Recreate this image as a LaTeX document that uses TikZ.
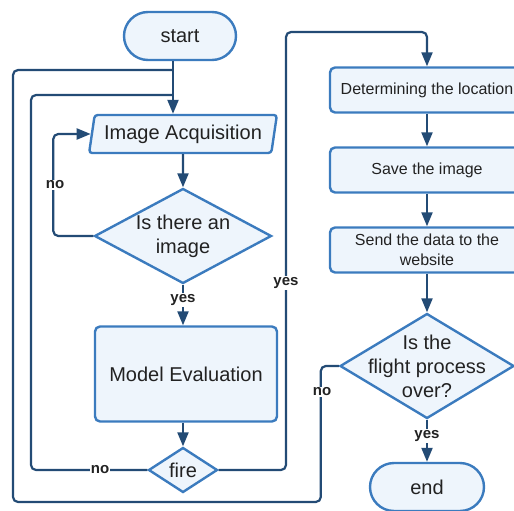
\documentclass[tikz,border=0pt]{standalone}
\usepackage{fontspec}
\setmainfont{Liberation Sans}
\usetikzlibrary{shapes.geometric,arrows.meta}
\definecolor{edge}{HTML}{3B7BBE}
\definecolor{pale}{HTML}{EEF5FC}
\definecolor{wire}{HTML}{234B75}
\definecolor{ink}{HTML}{222222}

\begin{document}
\begin{tikzpicture}[x=1pt,y=-1pt,
	box/.style={draw=edge,fill=pale,line width=2.4pt,text=ink,font=\fontsize{20}{24}\selectfont,align=center,inner sep=0pt},
	term/.style={box,rounded corners=24pt},
	proc/.style={box,rounded corners=5pt},
	smallproc/.style={proc,font=\fontsize{16}{20}\selectfont,minimum width=194pt,minimum height=45pt},
	io/.style={box,trapezium,trapezium left angle=75,trapezium right angle=105,trapezium stretches=true,rounded corners=3pt},
	choice/.style={box,diamond,inner sep=-40pt},
	flow/.style={draw=wire,line width=2.2pt,rounded corners=5pt},
	arr/.style={flow,-{Triangle[length=14pt,width=11pt]}},
	tag/.style={fill=white,text=ink,font=\fontsize{15}{18}\selectfont\bfseries,inner sep=1pt}]
	\useasboundingbox (0,0) rectangle (514,511);
	\clip (0,0) rectangle (514,511);
	\node[term,minimum width=112pt,minimum height=48pt] (start) at (180,36) {start};
	\node[io,minimum width=188pt,minimum height=38pt] (acq) at (183,134) {Image Acquisition};
	\node[choice,minimum width=177pt,minimum height=95pt] (isimg) at (183,236) {Is there an\\image};
	\node[proc,minimum width=182pt,minimum height=95pt] (model) at (186,374) {Model Evaluation};
	\node[choice,minimum width=69pt,minimum height=45pt] (fire) at (183,470) {fire};
	\node[smallproc] (loc) at (427,90) {Determining the location};
	\node[smallproc] (save) at (427,170) {Save the image};
	\node[smallproc] (send) at (427,250) {Send the data to the\\website};
	\node[choice,minimum width=174pt,minimum height=105pt] (over) at (427,366) {Is the\\flight process\\over?};
	\node[term,minimum width=114pt,minimum height=48pt] (end) at (427,487) {end};
	\coordinate (top) at (173,70);
	\coordinate (mid) at (173,95);
	\coordinate (outer) at (13,502);
	\coordinate (inner) at (31,95);
	\coordinate (up) at (286,32);
	\draw[arr] (start.south -| mid) -- (acq.north -| mid);
	\draw[flow] (over.west) -- ++(-18,0) |- (outer) |- (top);
	\draw[flow] (fire.west) -| (inner) -- (mid);
	\draw[arr] (acq.south) -- (isimg.north);
	\draw[arr] (isimg.west) -- ++(-40,0) |- (acq.west);
	\draw[arr] (isimg.south) -- (isimg.south |- model.north);
	\draw[arr] (model.south -| fire.north) -- (fire.north);
	\draw[arr] (fire.east) -| (up) -| (loc.north);
	\draw[arr] (loc.south) -- (save.north);
	\draw[arr] (save.south) -- (send.north);
	\draw[arr] (send.south) -- (over.north);
	\draw[arr] (over.south) -- (end.north);
	\node[tag] (no1) at (55,185) {no};
	\node[tag] (yes1) at (183,300) {yes};
	\node[tag] (no2) at (100,470) {no};
	\node[tag] (yes2) at (286,283) {yes};
	\node[tag] (no3) at (322,392) {no};
	\node[tag] (yes3) at (427,436) {yes};
\end{tikzpicture}
\end{document}
